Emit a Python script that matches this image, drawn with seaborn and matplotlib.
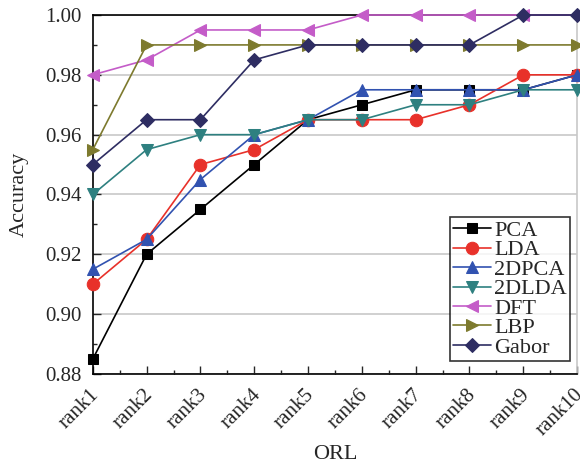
import matplotlib
matplotlib.use("Agg")
import matplotlib.pyplot as plt
from matplotlib.ticker import MultipleLocator, FixedLocator, FormatStrFormatter
import seaborn as sns
import pandas as pd

ranks = ["rank1", "rank2", "rank3", "rank4", "rank5",
         "rank6", "rank7", "rank8", "rank9", "rank10"]
methods = ["PCA", "LDA", "2DPCA", "2DLDA", "DFT", "LBP", "Gabor"]

pca = [0.885, 0.920, 0.935, 0.950, 0.965, 0.970, 0.975, 0.975, 0.975, 0.980]
lda = [0.910, 0.925, 0.950, 0.955, 0.965, 0.965, 0.965, 0.970, 0.980, 0.980]
dpca2 = [0.915, 0.925, 0.945, 0.960, 0.965, 0.975, 0.975, 0.975, 0.975, 0.980]
dlda2 = [0.940, 0.955, 0.960, 0.960, 0.965, 0.965, 0.970, 0.970, 0.975, 0.975]
dft = [0.980, 0.985, 0.995, 0.995, 0.995, 1.000, 1.000, 1.000, 1.000, 1.000]
lbp = [0.955, 0.990, 0.990, 0.990, 0.990, 0.990, 0.990, 0.990, 0.990, 0.990]
gabor = [0.950, 0.965, 0.965, 0.985, 0.990, 0.990, 0.990, 0.990, 1.000, 1.000]

series = [pca, lda, dpca2, dlda2, dft, lbp, gabor]
colors = ["#000000", "#e8312a", "#3152b0", "#2e8080", "#c45cc8", "#7d7a2e", "#2e2d62"]
markers = ["s", "o", "^", "v", "<", ">", "D"]
msizes = [7, 9, 8, 8, 9, 9, 7]

df = pd.DataFrame({
    "rank": ranks * len(methods),
    "pos": list(range(len(ranks))) * len(methods),
    "method": [m for m in methods for _ in ranks],
    "acc": [v for s in series for v in s],
})

sns.set_style("ticks")
plt.rcParams["font.family"] = ["Liberation Serif", "DejaVu Serif"]

fig = plt.figure(figsize=(5.8, 4.69), dpi=100)
ax = fig.add_axes([0.160, 0.2026, 0.835, 0.7654])

for m, c, mk, ms in zip(methods, colors, markers, msizes):
    sub = df[df["method"] == m]
    sns.lineplot(data=sub, x="pos", y="acc", ax=ax, color=c, marker=mk,
                 markersize=ms, markeredgecolor=c, linewidth=1.2,
                 label=m, clip_on=False, zorder=3)

ax.set_xlim(0, len(ranks) - 1)
ax.set_ylim(0.88, 1.00)
ax.set_xticks(range(len(ranks)))
ax.set_xticklabels(ranks, rotation=45, ha="right", rotation_mode="anchor")
ax.xaxis.set_minor_locator(FixedLocator([i + 0.5 for i in range(len(ranks) - 1)]))
ax.yaxis.set_major_locator(MultipleLocator(0.02))
ax.yaxis.set_minor_locator(MultipleLocator(0.01))
ax.yaxis.set_major_formatter(FormatStrFormatter("%.2f"))
ax.tick_params(axis="both", which="major", direction="in", length=6,
               width=1, labelsize=15)
ax.tick_params(axis="both", which="minor", direction="in", length=3, width=1)
ax.tick_params(axis="x", which="major", pad=8)
ax.tick_params(axis="y", which="major", pad=8)

# nudge the rotated rank labels slightly left so the last one stays in view
import matplotlib.transforms as mtransforms
shift = mtransforms.ScaledTranslation(-3 / 100, 0, fig.dpi_scale_trans)
for lbl in ax.get_xticklabels():
    lbl.set_transform(lbl.get_transform() + shift)

ax.grid(axis="y", which="major", color="#c8c8c8", linewidth=1.2, zorder=0)
ax.set_axisbelow(True)
for side in ["left", "bottom", "top"]:
    ax.spines[side].set_color("black")
    ax.spines[side].set_linewidth(1.2)
ax.spines["right"].set_color("#c8c8c8")
ax.spines["right"].set_linewidth(1.2)

ax.set_xlabel("ORL", fontsize=16, labelpad=4)
ax.set_ylabel("Accuracy", fontsize=16, labelpad=12)

leg = ax.legend(loc="lower right", bbox_to_anchor=(1 - 7 / 484, 13 / 359),
                fontsize=16, frameon=True, fancybox=False, edgecolor="black",
                handlelength=1.7, handletextpad=0.15, borderpad=0.15,
                labelspacing=-0.05, borderaxespad=0.0)
leg.get_frame().set_linewidth(1.2)

fig.savefig("out.png", dpi=100)
